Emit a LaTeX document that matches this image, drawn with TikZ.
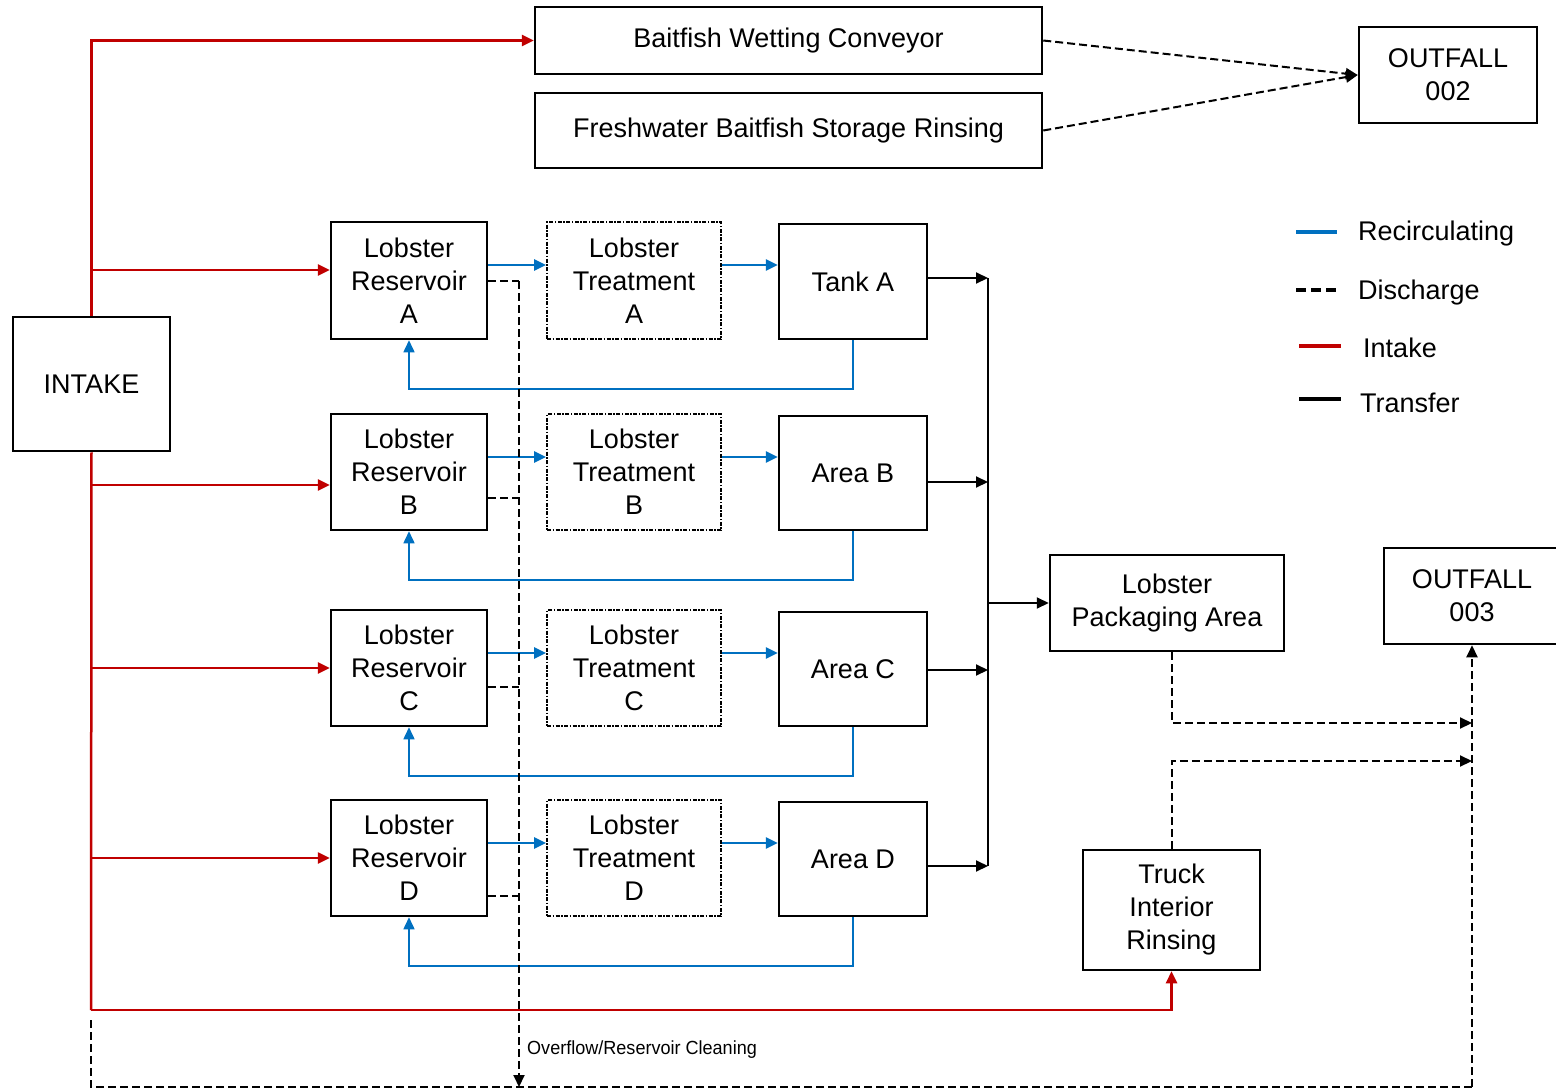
\documentclass[tikz,border=0pt]{standalone}
\usepackage{fontspec}
\setmainfont{Liberation Sans}
\usetikzlibrary{arrows.meta}
\definecolor{intakered}{HTML}{C00000}
\definecolor{recblue}{HTML}{0070C0}
\begin{document}
\begin{tikzpicture}[x=1pt,y=-1pt,
  box/.style={draw=black,line width=2.5pt,align=center,inner sep=0pt,font=\fontsize{27}{33}\selectfont},
  treat/.style={box,line width=2pt,dash pattern=on 4pt off 1.5pt on 1.5pt off 1.5pt},
  tip/.style={-{Triangle[length=12pt,width=11pt]}},
  intake/.style={draw=intakered,line width=2.5pt},
  recirc/.style={draw=recblue,line width=2.5pt},
  recret/.style={draw=recblue,line width=1.5pt},
  transfer/.style={draw=black,line width=2pt},
  discharge/.style={draw=black,line width=2pt,dash pattern=on 8pt off 4pt},
  legtext/.style={anchor=west,inner sep=0pt,font=\fontsize{27}{33}\selectfont}
]
\useasboundingbox (0,0) rectangle (1556,1089);
% nodes
\node[box,minimum width=507pt,minimum height=67pt] (bait) at (788.5,40.5) {\raisebox{-3pt}{Baitfish Wetting Conveyor}};
\node[box,minimum width=507pt,minimum height=75pt] (fresh) at (788.5,130.5) {\raisebox{-3pt}{Freshwater Baitfish Storage Rinsing}};
\node[box,minimum width=178pt,minimum height=96pt] (out2) at (1448,75) {OUTFALL\\002};
\node[box,minimum width=157pt,minimum height=134pt] (intake) at (91.5,384) {INTAKE};
\node[box,minimum width=156pt,minimum height=117pt] (resA) at (409,280.5) {Lobster\\Reservoir\\A};
\node[box,minimum width=156pt,minimum height=116pt] (resB) at (409,472) {Lobster\\Reservoir\\B};
\node[box,minimum width=156pt,minimum height=116pt] (resC) at (409,668) {Lobster\\Reservoir\\C};
\node[box,minimum width=156pt,minimum height=116pt] (resD) at (409,858) {Lobster\\Reservoir\\D};
\node[treat,minimum width=174pt,minimum height=117pt] (trA) at (634,280.5) {Lobster\\Treatment\\A};
\node[treat,minimum width=174pt,minimum height=116pt] (trB) at (634,472) {Lobster\\Treatment\\B};
\node[treat,minimum width=174pt,minimum height=116pt] (trC) at (634,668) {Lobster\\Treatment\\C};
\node[treat,minimum width=174pt,minimum height=116pt] (trD) at (634,858) {Lobster\\Treatment\\D};
\node[box,minimum width=148pt,minimum height=115pt] (tkA) at (853,281.5) {Tank A};
\node[box,minimum width=148pt,minimum height=114pt] (tkB) at (853,473) {Area B};
\node[box,minimum width=148pt,minimum height=114pt] (tkC) at (853,669) {Area C};
\node[box,minimum width=148pt,minimum height=114pt] (tkD) at (853,859) {Area D};
\node[box,minimum width=234pt,minimum height=96pt] (pack) at (1167,603) {Lobster\\Packaging Area};
\node[box,minimum width=176pt,minimum height=96pt] (out3) at (1472,596) {OUTFALL\\003};
\node[box,minimum width=177pt,minimum height=120pt] (truck) at (1171.5,910) {Truck\\Interior\\Rinsing};
% coordinates
\coordinate (redbot) at (91,1010);
\coordinate (ovtop) at (519,281);
\coordinate (ovbot) at (519,1087);
\coordinate (dleft) at (91,1020);
\coordinate (dright) at (1472,1087);
\coordinate (bus) at (988,603);
\coordinate (j1) at (1472,723);
\coordinate (j2) at (1472,761);
% intake (red)
\draw[intake,tip] (intake.north) |- (bait.west);
\draw[intake,tip] (intake.north |- 0,270) -- (resA.west |- 0,270);
\draw[intake] (intake.south) -- (redbot);
\draw[intake,tip] (intake.south |- 0,485) -- (resB.west |- 0,485);
\draw[intake,tip] (intake.south |- 0,668) -- (resC.west |- 0,668);
\draw[intake,tip] (intake.south |- 0,858) -- (resD.west |- 0,858);
\draw[intake,tip] (redbot) -| (truck.south);
% recirculating (blue)
\draw[recirc,tip] (resA.east |- 0,265) -- (trA.west |- 0,265);
\draw[recirc,tip] (trA.east |- 0,265) -- (tkA.west |- 0,265);
\draw[recirc,tip] (resB.east |- 0,457) -- (trB.west |- 0,457);
\draw[recirc,tip] (trB.east |- 0,457) -- (tkB.west |- 0,457);
\draw[recirc,tip] (resC.east |- 0,653) -- (trC.west |- 0,653);
\draw[recirc,tip] (trC.east |- 0,653) -- (tkC.west |- 0,653);
\draw[recirc,tip] (resD.east |- 0,843) -- (trD.west |- 0,843);
\draw[recirc,tip] (trD.east |- 0,843) -- (tkD.west |- 0,843);
\draw[recret,tip] (tkA.south) -- (853,389) -| (resA.south);
\draw[recret,tip] (tkB.south) -- (853,580) -| (resB.south);
\draw[recret,tip] (tkC.south) -- (853,776) -| (resC.south);
\draw[recret,tip] (tkD.south) -- (853,966) -| (resD.south);
% transfer (black)
\draw[transfer,tip] (tkA.east |- 0,278) -- (988,278);
\draw[transfer,tip] (tkB.east |- 0,482) -- (988,482);
\draw[transfer,tip] (tkC.east |- 0,670) -- (988,670);
\draw[transfer,tip] (tkD.east |- 0,866) -- (988,866);
\draw[transfer] (988,278) -- (988,866);
\draw[transfer,tip] (bus) -- (pack.west);
% discharge
\draw[discharge,tip] (bait.east) -- (out2.west);
\draw[discharge,tip] (fresh.east) -- (out2.west);
\draw[discharge] (resA.east |- 0,281) -- (ovtop);
\draw[discharge] (resB.east |- 0,498) -- (519,498);
\draw[discharge] (resC.east |- 0,687) -- (519,687);
\draw[discharge] (resD.east |- 0,896) -- (519,896);
\draw[discharge,tip] (ovtop) -- (ovbot);
\draw[discharge] (dleft) |- (dright);
\draw[discharge,tip] (dright) -- (out3.south);
\draw[discharge,tip] (pack.south -| 1172,0) |- (j1);
\draw[discharge,tip] (truck.north) |- (j2);
\node[anchor=west,inner sep=0pt,font=\fontsize{19}{22}\selectfont,xscale=0.95] (ovlabel) at (527,1050) {Overflow/Reservoir Cleaning};
% legend
\draw[recirc,line width=3.5pt] (1296,232) -- (1337,232);
\node[legtext] (l1) at (1358,234) {Recirculating};
\draw[draw=black,line width=3.5pt,dash pattern=on 10pt off 5pt] (1296,290) -- (1336,290);
\node[legtext] (l2) at (1358,293) {Discharge};
\draw[intake,line width=3.5pt] (1299,346) -- (1341,346);
\node[legtext] (l3) at (1363,348) {Intake};
\draw[transfer,line width=3.5pt] (1299,399) -- (1341,399);
\node[legtext] (l4) at (1360,403) {Transfer};
\end{tikzpicture}
\end{document}
